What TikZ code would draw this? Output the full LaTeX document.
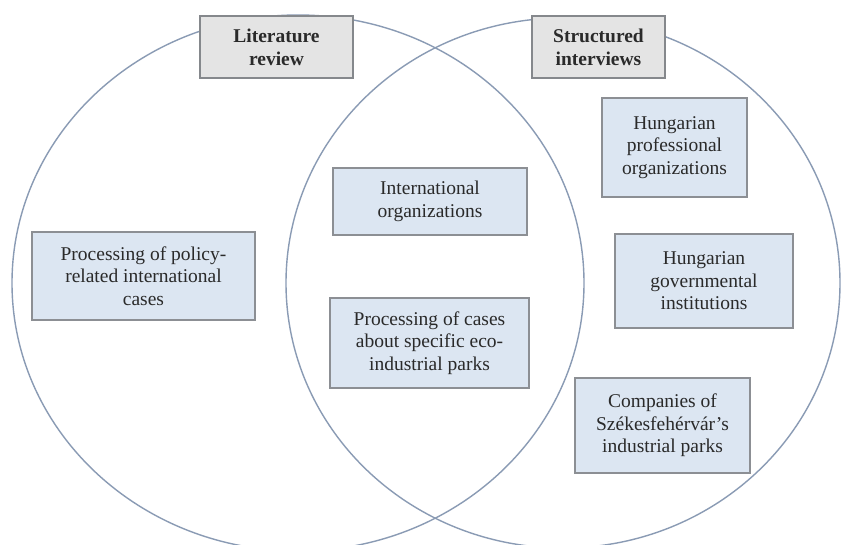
\documentclass[tikz,border=0pt]{standalone}
\usepackage{fontspec}
\setmainfont{Liberation Serif}
\definecolor{ringcol}{HTML}{8A9BB4}
\definecolor{boxfill}{HTML}{DCE6F2}
\definecolor{boxedge}{HTML}{8C8F94}
\definecolor{headfill}{HTML}{E4E4E4}
\definecolor{headedge}{HTML}{85888C}
\definecolor{txtcol}{HTML}{2A2A2A}
\begin{document}
\begin{tikzpicture}[x=1pt,y=-1pt,
  ring/.style={draw=ringcol,line width=1.4pt},
  itembox/.style={draw=boxedge,fill=boxfill,line width=1.3pt,align=center,
    text=txtcol,inner sep=0pt,font=\rmfamily\fontsize{19.5}{22.5}\selectfont},
  headbox/.style={draw=headedge,fill=headfill,line width=1.3pt,align=center,
    text=txtcol,inner sep=0pt,font=\rmfamily\fontsize{19.5}{23}\selectfont\bfseries}]
\useasboundingbox (0,0) rectangle (841,544);
\fill[white] (0,0) rectangle (841,544);
\begin{scope}
\clip (0,0) rectangle (841,544);
\draw[ring] (298,283) ellipse [x radius=286pt, y radius=268pt];
\draw[ring] (563,283) ellipse [x radius=277pt, y radius=265pt];
\end{scope}
\node[headbox,minimum width=153pt,minimum height=62pt] (lit) at (276.5,47) {Literature\\review};
\node[headbox,minimum width=133pt,minimum height=62pt] (str) at (598.5,47) {Structured\\interviews};
\node[itembox,minimum width=223pt,minimum height=88pt] (policy) at (143.5,276) {Processing of policy-\\related international\\cases};
\node[itembox,minimum width=194pt,minimum height=67pt] (intorg) at (430,201.5) {International\\organizations};
\node[itembox,minimum width=199pt,minimum height=90pt] (cases) at (429.5,343) {Processing of cases\\about specific eco-\\industrial parks};
\node[itembox,minimum width=145pt,minimum height=99pt] (hpo) at (674.5,147.5) {Hungarian\\professional\\organizations};
\node[itembox,minimum width=178pt,minimum height=94pt] (hgi) at (704,281) {Hungarian\\governmental\\institutions};
\node[itembox,minimum width=175pt,minimum height=95pt] (comp) at (662.5,425.5) {Companies of\\Székesfehérvár’s\\industrial parks};
\end{tikzpicture}
\end{document}
